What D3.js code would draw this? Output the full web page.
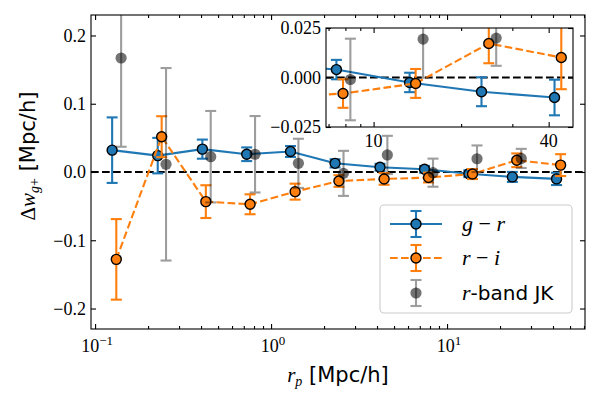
<!DOCTYPE html>
<html lang="en">
<head>
<meta charset="UTF-8">
<title>Delta w_g+ colour split</title>
<script src="https://cdnjs.cloudflare.com/ajax/libs/d3/7.8.5/d3.min.js"></script>
<style>
    body { margin: 0; background: #fff; }
    svg { display: block; }
    .tick line { stroke: #000; stroke-width: 1.1px; }
    .tick text { font-family: "Liberation Serif", serif; font-size: 18px; fill: #000; }
</style>
</head>
<body>
<svg width="600" height="400"></svg>
<script>
    // g - r split
    var rpGR = [0.125, 0.227, 0.407, 0.727, 1.29, 2.31, 4.16, 7.45, 13.3, 23.5, 41.9];
    var dwGR = [0.032, 0.024, 0.0335, 0.026, 0.030, 0.0127, 0.007, 0.004, -0.0025, -0.0072, -0.0101];
    var errGR = [0.048, 0.026, 0.014, 0.010, 0.008, 0.006, 0.005, 0.0049, 0.0049, 0.0073, 0.009];
    // r - i split
    var rpRI = [0.132, 0.239, 0.426, 0.760, 1.37, 2.43, 4.39, 7.85, 13.95, 24.9, 44.2];
    var dwRI = [-0.128, 0.0517, -0.0434, -0.0473, -0.0288, -0.0132, -0.0102, -0.0081, -0.003, 0.0172, 0.0101];
    var errRI = [0.059, 0.030, 0.024, 0.0146, 0.0117, 0.0085, 0.0085, 0.0072, 0.0073, 0.010, 0.016];
    // r-band jackknife
    var rpJK = [0.1406, 0.253, 0.454, 0.811, 1.43, 2.58, 4.58, 8.32, 14.8, 26.4];
    var dwJK = [0.167, 0.0113, 0.0224, 0.026, 0.0127, -0.002, 0.025, -0.001, 0.0194, 0.0199];
    var errJK = [0.130, 0.141, 0.067, 0.056, 0.036, 0.033, 0.028, 0.0206, 0.0195, 0.014];

    var xMajor = [0.1, 1, 10];
    var xExp = ["\u22121", "0", "1"];
    var yMajor = [-0.2, -0.1, 0, 0.1, 0.2];
    var insetXMajor = [10, 40];
    var insetYMajor = [-0.025, 0, 0.025];

    var blue = "#1f77b4", orange = "#ff7f0e";
    var LW = 2.1, DASH = "7.7,3.3";

    var svg = d3.select("svg");

    function minorLog(lo, hi) {
        var out = [];
        for (var e = -2; e < 3; e++) {
            for (var m = 2; m < 10; m++) {
                var v = m * Math.pow(10, e);
                if (v > lo && v < hi) out.push(v);
            }
        }
        return out;
    }

    // errorbar series: bars, then joining line, then markers
    function drawSeries(g, xs, ys, es, x, y, o) {
        var pts = xs.map(function (d, i) { return {x: d, y: ys[i], e: es[i]}; });
        var bars = g.append("g").selectAll("g").data(pts).enter().append("g")
                .attr("stroke", o.bar).attr("stroke-width", LW).attr("opacity", o.barOpacity || 1);
        bars.append("line")
                .attr("x1", function (d) { return x(d.x); })
                .attr("x2", function (d) { return x(d.x); })
                .attr("y1", function (d) { return y(d.y - d.e); })
                .attr("y2", function (d) { return y(d.y + d.e); });
        [-1, 1].forEach(function (s) {
            bars.append("line")
                    .attr("x1", function (d) { return x(d.x) - 5.5; })
                    .attr("x2", function (d) { return x(d.x) + 5.5; })
                    .attr("y1", function (d) { return y(d.y + s * d.e); })
                    .attr("y2", function (d) { return y(d.y + s * d.e); });
        });
        if (o.line) {
            g.append("path").datum(pts)
                    .attr("fill", "none")
                    .attr("stroke", o.line)
                    .attr("stroke-width", LW)
                    .attr("stroke-dasharray", o.dash || null)
                    .attr("d", d3.line().x(function (d) { return x(d.x); }).y(function (d) { return y(d.y); }));
        }
        g.append("g").selectAll("circle").data(pts).enter().append("circle")
                .attr("cx", function (d) { return x(d.x); })
                .attr("cy", function (d) { return y(d.y); })
                .attr("r", o.edge ? 5 : 5.6)
                .attr("fill", o.fill)
                .attr("fill-opacity", o.fillOpacity || 1)
                .attr("stroke", o.edge || "none")
                .attr("stroke-width", 1.4);
    }

    function drawAll(g, x, y) {
        drawSeries(g, rpGR, dwGR, errGR, x, y, {bar: blue, line: blue, fill: blue, edge: "#000"});
        drawSeries(g, rpRI, dwRI, errRI, x, y, {bar: orange, line: orange, dash: DASH, fill: orange, edge: "#000"});
        drawSeries(g, rpJK, dwJK, errJK, x, y, {bar: "#000", barOpacity: 0.38, fill: "#000", fillOpacity: 0.55});
    }

    function frame(g, x, y, box, opts) {
        g.append("g").attr("transform", "translate(0," + box.b + ")")
                .call(d3.axisBottom(x).tickValues(opts.xMajor).tickSize(-5).tickFormat(""))
                .call(function (s) { s.select(".domain").remove(); });
        g.append("g").attr("transform", "translate(0," + box.b + ")")
                .call(d3.axisBottom(x).tickValues(opts.xMinor).tickSize(-3).tickFormat(""))
                .call(function (s) { s.select(".domain").remove(); });
        g.append("g").attr("transform", "translate(0," + box.t + ")")
                .call(d3.axisTop(x).tickValues(opts.xMajor).tickSize(-5).tickFormat(""))
                .call(function (s) { s.select(".domain").remove(); });
        g.append("g").attr("transform", "translate(0," + box.t + ")")
                .call(d3.axisTop(x).tickValues(opts.xMinor).tickSize(-3).tickFormat(""))
                .call(function (s) { s.select(".domain").remove(); });
        g.append("g").attr("transform", "translate(" + box.l + ",0)")
                .call(d3.axisLeft(y).tickValues(opts.yMajor).tickSize(-5).tickPadding(5).tickFormat(d3.format(opts.yFmt)))
                .call(function (s) { s.select(".domain").remove(); });
        g.append("g").attr("transform", "translate(" + box.r + ",0)")
                .call(d3.axisRight(y).tickValues(opts.yMajor).tickSize(-5).tickFormat(""))
                .call(function (s) { s.select(".domain").remove(); });
        g.append("rect")
                .attr("x", box.l).attr("y", box.t)
                .attr("width", box.r - box.l).attr("height", box.b - box.t)
                .attr("fill", "none").attr("stroke", "#000").attr("stroke-width", 1.1);
    }

    // ---- main panel ----
    var box = {l: 91, r: 585, t: 15, b: 329};
    var x = d3.scaleLog().domain([0.0948, 60.8]).range([box.l, box.r]);
    var y = d3.scaleLinear().domain([-0.23, 0.23]).range([box.b, box.t]);

    svg.append("clipPath").attr("id", "clipMain").append("rect")
            .attr("x", box.l).attr("y", box.t).attr("width", box.r - box.l).attr("height", box.b - box.t);

    var main = svg.append("g").attr("clip-path", "url(#clipMain)");
    main.append("line")
            .attr("x1", box.l).attr("x2", box.r).attr("y1", y(0)).attr("y2", y(0))
            .attr("stroke", "#000").attr("stroke-width", LW).attr("stroke-dasharray", DASH);
    drawAll(main, x, y);

    frame(svg, x, y, box, {xMajor: xMajor, xMinor: minorLog(0.0948, 60.8), yMajor: yMajor, yFmt: ".1f"});

    // x tick labels 10^n
    xMajor.forEach(function (v, i) {
        var t = svg.append("text")
                .attr("x", x(v) + 2).attr("y", 352)
                .attr("text-anchor", "middle")
                .attr("font-family", "Liberation Serif, serif").attr("font-size", 18);
        t.append("tspan").text("10");
        t.append("tspan").attr("dy", -7).attr("font-size", 13).text(xExp[i]);
    });

    // axis labels
    var xl = svg.append("text")
            .attr("x", (box.l + box.r) / 2).attr("y", 382)
            .attr("text-anchor", "middle").attr("font-size", 21);
    xl.append("tspan").attr("font-family", "Liberation Serif, serif").attr("font-style", "italic").text("r");
    xl.append("tspan").attr("font-family", "Liberation Serif, serif").attr("font-style", "italic")
            .attr("font-size", 14).attr("dy", 4).text("p");
    xl.append("tspan").attr("font-family", "DejaVu Sans, sans-serif").attr("dy", -4).text(" [Mpc/h]");

    var yl = svg.append("text")
            .attr("transform", "translate(35,156) rotate(-90)")
            .attr("text-anchor", "middle").attr("font-size", 21);
    yl.append("tspan").attr("font-family", "Liberation Serif, serif").text("\u0394");
    yl.append("tspan").attr("font-family", "Liberation Serif, serif").attr("font-style", "italic").text("w");
    yl.append("tspan").attr("font-family", "Liberation Serif, serif").attr("font-style", "italic")
            .attr("font-size", 14).attr("dy", 4).text("g");
    yl.append("tspan").attr("font-family", "Liberation Serif, serif").attr("font-size", 14).text("+");
    yl.append("tspan").attr("font-family", "DejaVu Sans, sans-serif").attr("dy", -4).text(" [Mpc/h]");

    // ---- legend ----
    var lg = svg.append("g");
    lg.append("rect").attr("x", 380).attr("y", 205).attr("width", 192).attr("height", 108).attr("rx", 4)
            .attr("fill", "#fff").attr("fill-opacity", 0.8).attr("stroke", "#ccc").attr("stroke-width", 1.1);
    var rows = [
        {y: 224, color: blue, dash: null, line: true, edge: "#000", op: 1, fop: 1},
        {y: 258, color: orange, dash: DASH, line: true, edge: "#000", op: 1, fop: 1},
        {y: 293, color: "#000", dash: null, line: false, edge: "none", op: 0.38, fop: 0.55}
    ];
    rows.forEach(function (r) {
        var h = lg.append("g");
        var b = h.append("g").attr("stroke", r.color).attr("stroke-width", LW).attr("opacity", r.op);
        b.append("line").attr("x1", 416).attr("x2", 416).attr("y1", r.y - 13).attr("y2", r.y + 13);
        b.append("line").attr("x1", 410.5).attr("x2", 421.5).attr("y1", r.y - 13).attr("y2", r.y - 13);
        b.append("line").attr("x1", 410.5).attr("x2", 421.5).attr("y1", r.y + 13).attr("y2", r.y + 13);
        if (r.line) {
            h.append("line").attr("x1", 390).attr("x2", 442).attr("y1", r.y).attr("y2", r.y)
                    .attr("stroke", r.color).attr("stroke-width", LW).attr("stroke-dasharray", r.dash);
        }
        h.append("circle").attr("cx", 416).attr("cy", r.y).attr("r", r.edge === "none" ? 5.6 : 5)
                .attr("fill", r.color).attr("fill-opacity", r.fop)
                .attr("stroke", r.edge).attr("stroke-width", 1.4);
    });
    function legText(yy) {
        return lg.append("text").attr("x", 462).attr("y", yy + 7).attr("font-size", 22);
    }
    var t1 = legText(224);
    t1.append("tspan").attr("font-family", "Liberation Serif, serif").attr("font-style", "italic").text("g");
    t1.append("tspan").attr("font-family", "Liberation Serif, serif").text(" \u2212 ");
    t1.append("tspan").attr("font-family", "Liberation Serif, serif").attr("font-style", "italic").text("r");
    var t2 = legText(258);
    t2.append("tspan").attr("font-family", "Liberation Serif, serif").attr("font-style", "italic").text("r");
    t2.append("tspan").attr("font-family", "Liberation Serif, serif").text(" \u2212 ");
    t2.append("tspan").attr("font-family", "Liberation Serif, serif").attr("font-style", "italic").text("i");
    var t3 = legText(293);
    t3.append("tspan").attr("font-family", "Liberation Serif, serif").attr("font-style", "italic").text("r");
    t3.append("tspan").attr("font-family", "DejaVu Sans, sans-serif").attr("font-size", 20).text("-band JK");

    // ---- inset ----
    var ib = {l: 326, r: 573, t: 28, b: 127};
    var ix = d3.scaleLog().domain([6.86, 48.5]).range([ib.l, ib.r]);
    var iy = d3.scaleLinear().domain([-0.025, 0.025]).range([ib.b, ib.t]);

    svg.append("rect").attr("x", ib.l).attr("y", ib.t).attr("width", ib.r - ib.l).attr("height", ib.b - ib.t)
            .attr("fill", "#fff");
    svg.append("clipPath").attr("id", "clipInset").append("rect")
            .attr("x", ib.l).attr("y", ib.t).attr("width", ib.r - ib.l).attr("height", ib.b - ib.t);
    var inset = svg.append("g").attr("clip-path", "url(#clipInset)");
    inset.append("line")
            .attr("x1", ib.l).attr("x2", ib.r).attr("y1", iy(0)).attr("y2", iy(0))
            .attr("stroke", "#000").attr("stroke-width", LW).attr("stroke-dasharray", DASH);
    drawAll(inset, ix, iy);

    frame(svg, ix, iy, ib, {xMajor: insetXMajor, xMinor: minorLog(6.86, 48.5).filter(function (v) { return v !== 40; }),
        yMajor: insetYMajor, yFmt: ".3f"});

    insetXMajor.forEach(function (v) {
        svg.append("text").attr("x", ix(v)).attr("y", 147).attr("text-anchor", "middle")
                .attr("font-family", "Liberation Serif, serif").attr("font-size", 18).text(v);
    });
</script>
</body>
</html>
